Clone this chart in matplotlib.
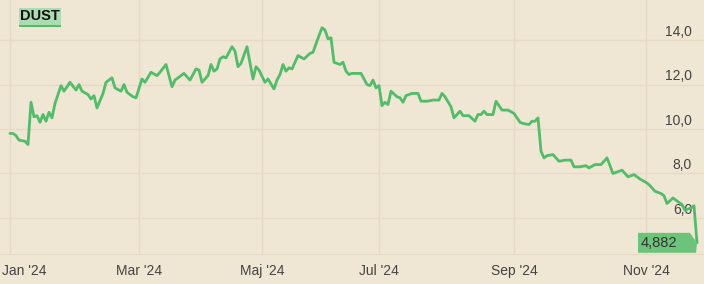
import numpy as np
import matplotlib.pyplot as plt
from matplotlib.patches import Polygon, Rectangle
from matplotlib.transforms import ScaledTranslation

# trading session number (0 = 2 Jan 2024) and closing price
sessions = [0, 1, 2, 3, 5, 6, 7, 8, 9, 10, 11, 12, 13, 14, 15, 17, 18, 20, 22, 23,
            24, 26, 27, 28, 29, 31, 32, 34, 35, 37, 38, 39, 41, 42, 44, 45, 47, 49, 50, 52,
            54, 55, 56, 58, 60, 62, 63, 64, 66, 67, 68, 69, 70, 71, 72, 74, 75, 76, 77, 79,
            81, 82, 83, 85, 86, 88, 89, 90, 91, 92, 93, 94, 96, 98, 100, 101, 103, 104, 105, 106,
            107, 108, 110, 111, 112, 113, 114, 117, 119, 120, 121, 122, 123, 124, 125, 126, 127, 129, 130, 131,
            132, 134, 136, 137, 139, 141, 143, 144, 145, 147, 148, 150, 151, 153, 155, 156, 157, 158, 159, 161,
            162, 164, 166, 168, 170, 171, 173, 174, 175, 176, 177, 178, 179, 181, 183, 185, 187, 188, 189, 190,
            192, 193, 195, 197, 199, 201, 204, 206, 208, 210, 212, 213, 215, 217, 218, 219, 221, 222, 224, 225,
            227, 228, 229]
prices = [9.8, 9.8, 9.7, 9.5, 9.45, 9.3, 11.2, 10.55, 10.6, 10.3, 10.65, 10.35, 10.75, 10.5, 11.15, 11.95, 11.7, 12.1, 11.75, 12.0,
          11.7, 11.55, 11.35, 11.5, 10.95, 11.6, 12.1, 12.3, 11.85, 11.7, 12.0, 11.65, 11.45, 11.4, 12.25, 12.1, 12.55, 12.4, 12.55, 12.9,
          11.9, 12.2, 12.3, 12.5, 12.2, 12.7, 12.65, 12.1, 12.4, 12.9, 12.6, 12.7, 13.15, 13.25, 13.2, 13.7, 13.5, 12.8, 12.95, 13.7,
          12.25, 12.8, 12.65, 12.1, 12.25, 11.8, 12.2, 12.45, 12.9, 12.6, 12.75, 12.7, 13.3, 13.15, 13.4, 13.45, 14.2, 14.55, 14.45, 14.05,
          14.1, 13.0, 12.9, 13.0, 12.6, 12.45, 12.5, 12.5, 12.0, 11.95, 12.2, 11.85, 11.95, 11.05, 11.2, 11.1, 11.7, 11.45, 11.4, 11.2,
          11.5, 11.6, 11.6, 11.25, 11.25, 11.3, 11.3, 11.6, 11.45, 11.0, 10.5, 10.8, 10.6, 10.6, 10.35, 10.65, 10.65, 10.8, 10.65, 10.65,
          11.25, 10.85, 10.85, 10.7, 10.3, 10.25, 10.2, 10.35, 10.35, 10.5, 9.0, 8.7, 8.8, 8.85, 8.55, 8.6, 8.6, 8.3, 8.3, 8.3,
          8.35, 8.25, 8.4, 8.4, 8.7, 8.0, 8.15, 7.85, 7.95, 7.75, 7.6, 7.5, 7.2, 7.1, 7.0, 6.65, 6.9, 6.8, 6.6, 6.35,
          6.45, 6.55, 4.882]

first_session = '2024-01-02'
month_starts = ['2024-01-02', '2024-03-01', '2024-05-01', '2024-07-01', '2024-09-01', '2024-11-01']
month_labels = ["Jan '24", "Mar '24", "Maj '24", "Jul '24", "Sep '24", "Nov '24"]
se_holidays = ['2024-01-01', '2024-03-29', '2024-04-01', '2024-05-01', '2024-05-09',
               '2024-06-06', '2024-06-21']
y_ticks = [6, 8, 10, 12, 14]
y_labels = ['6,0', '8,0', '10,0', '12,0', '14,0']
ticker = 'DUST'

bg = '#efe6d3'
grid_c = '#e6dac4'
green = '#50bd68'
txt_c = '#444444'

plt.rcParams['font.family'] = ['Liberation Sans', 'DejaVu Sans']

fig = plt.figure(figsize=(7.04, 2.84), dpi=100, facecolor=bg)
ax = fig.add_axes([0, 30 / 284, 1, 254 / 284], facecolor=bg)
ax.set_axisbelow(True)

ax.plot(sessions, prices, color=green, lw=2.0, solid_joinstyle='round', solid_capstyle='round', zorder=3)

ax.set_xlim(-10 / 3, 694 / 3)
ax.set_ylim(4.38, 15.8)

tick_pos = np.busday_count(first_session, month_starts, holidays=se_holidays)
ax.set_xticks(tick_pos)
ax.set_xticklabels(month_labels)
ax.set_yticks(y_ticks)
ax.set_yticklabels(y_labels)
ax.grid(True, color=grid_c, lw=1)

for s in ['top', 'left', 'right']:
    ax.spines[s].set_visible(False)
ax.spines['bottom'].set_color(grid_c)

ax.yaxis.tick_right()
ax.tick_params(axis='y', length=0, pad=-8.6, labelsize=10, labelcolor=txt_c)
ax.tick_params(axis='x', length=0, pad=7.5, labelsize=10, labelcolor=txt_c)
for lab in ax.get_yticklabels():
    lab.set_ha('right')
    lab.set_va('bottom')
    lab.set_transform(lab.get_transform() + ScaledTranslation(0, 1 / 72, fig.dpi_scale_trans))
xl = ax.get_xticklabels()
xl[0].set_ha('left')
xl[0].set_transform(xl[0].get_transform() + ScaledTranslation(-8 / 100, 0, fig.dpi_scale_trans))

# legend tag top-left
fig.patches.append(Rectangle((19, 284 - 25), 42, 17, transform=None, facecolor='#acdcb2',
                             edgecolor='none', figure=fig))
fig.patches.append(Rectangle((19, 284 - 27), 42, 2.5, transform=None, facecolor=green,
                             edgecolor='none', figure=fig))
fig.text(40 / 704, 1 - 16.5 / 284, ticker, ha='center', va='center', fontsize=10.5,
         fontweight='bold', color='#111111')

# last price tag
fig.canvas.draw()
tx, ty = ax.transData.transform((sessions[-1], prices[-1]))
L, R = tx - 59, tx
T, B = ty + 10, ty - 10
tag = Polygon([(L, T), (R - 7, T), (R, ty), (R - 1, B), (L, B)], closed=True, transform=None,
              facecolor='#6cc47b', edgecolor='none', zorder=4)
ax.add_artist(tag)
fig.text((L + 3) / 704, ty / 284, f'{prices[-1]:.3f}'.replace('.', ','), ha='left', va='center',
         fontsize=10.5, color='#333333', zorder=5)

fig.savefig('out.png', dpi=100, facecolor=bg)
